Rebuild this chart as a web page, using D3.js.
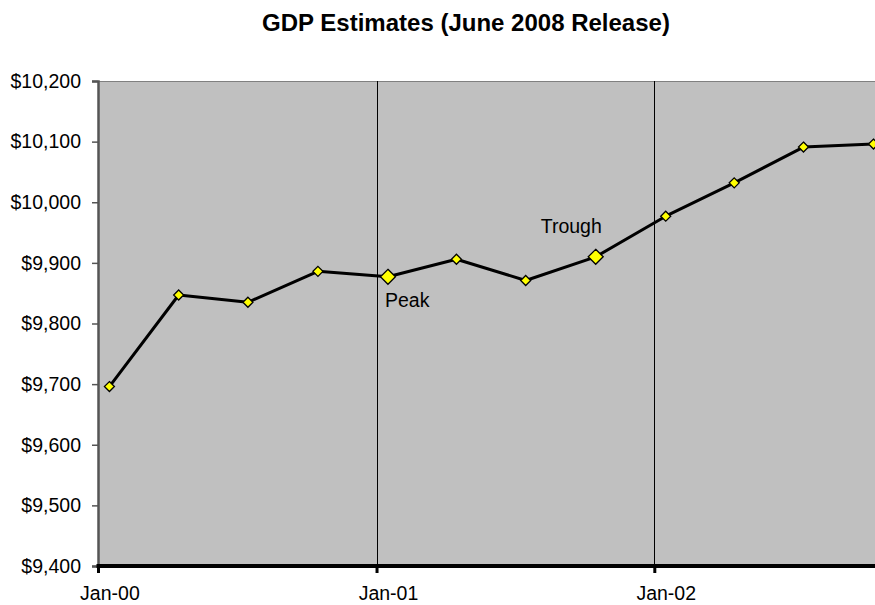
<!DOCTYPE html>
<html>
<head>
<meta charset="utf-8">
<script src="https://cdn.jsdelivr.net/npm/d3@7"></script>
<style>
  html, body { margin: 0; padding: 0; background: #ffffff; }
  svg { display: block; font-family: Arial, "Liberation Sans", sans-serif; }
</style>
</head>
<body>
<svg id="chart" width="875" height="605"></svg>
<script>
// Quarterly GDP estimates, billions of dollars
const quarters = [
  "2000-01-16", "2000-04-16", "2000-07-16", "2000-10-16",
  "2001-01-16", "2001-04-16", "2001-07-16", "2001-10-16",
  "2002-01-16", "2002-04-16", "2002-07-16", "2002-10-16"
];
const gdp = [9696, 9847, 9835, 9886, 9877, 9906, 9871, 9910, 9977, 10032, 10091, 10096];

// Business-cycle turning points (index into the series)
const turningPoints = [
  { index: 4, label: "Peak", dx: -3, dy: 30 },
  { index: 7, label: "Trough", dx: -55, dy: -24 }
];

const yTicks = [9400, 9500, 9600, 9700, 9800, 9900, 10000, 10100, 10200];
const yearStarts = ["2000-01-01", "2001-01-01", "2002-01-01"];
const yearLabelDates = [quarters[0], quarters[4], quarters[8]];

const parse = d3.utcParse("%Y-%m-%d");
const data = quarters.map((q, i) => ({ date: parse(q), value: gdp[i] }));

const svg = d3.select("#chart");
const plotLeft = 98, plotRight = 875, plotTop = 81, plotBottom = 566;
const labelFont = 19.5;

const x = d3.scaleUtc()
  .domain([parse("2000-01-01"), parse("2002-10-18")])
  .range([plotLeft, plotRight]);
const y = d3.scaleLinear().domain([9400, 10200]).range([plotBottom, plotTop]);

// Plot area
svg.append("rect")
  .attr("x", plotLeft).attr("y", plotTop)
  .attr("width", plotRight - plotLeft).attr("height", plotBottom - plotTop)
  .attr("fill", "#c0c0c0");
svg.append("line")
  .attr("x1", plotLeft).attr("x2", plotRight).attr("y1", plotTop + 0.5).attr("y2", plotTop + 0.5)
  .attr("stroke", "#808080").attr("stroke-width", 1);

// Vertical gridlines at year starts
svg.append("g").selectAll("line")
  .data(yearStarts.slice(1).map(parse))
  .join("line")
  .attr("x1", d => Math.round(x(d)) + 0.5).attr("x2", d => Math.round(x(d)) + 0.5)
  .attr("y1", plotTop).attr("y2", plotBottom)
  .attr("stroke", "#000").attr("stroke-width", 1);

// Y axis
const yAxis = svg.append("g")
  .attr("transform", `translate(${plotLeft},0)`)
  .call(d3.axisLeft(y).tickValues(yTicks).tickSize(6).tickPadding(11)
    .tickFormat(d => "$" + d3.format(",")(d)));
yAxis.select(".domain").attr("stroke", "#555").attr("stroke-width", 2.5);
yAxis.selectAll(".tick line").attr("stroke", "#555").attr("stroke-width", 1.5);
yAxis.selectAll("text").attr("font-size", labelFont).attr("fill", "#000")
  .attr("font-family", "Arial, 'Liberation Sans', sans-serif");

// X axis: tick marks at year starts
const xTicks = svg.append("g")
  .attr("transform", `translate(0,${plotBottom})`)
  .call(d3.axisBottom(x).tickValues(yearStarts.map(parse)).tickSize(7).tickFormat(""));
xTicks.select(".domain").remove();
xTicks.selectAll(".tick line").attr("stroke", "#000").attr("stroke-width", 3);

// X axis: year labels under the first quarter of each year
const xLabels = svg.append("g")
  .attr("transform", `translate(0,${plotBottom})`)
  .call(d3.axisBottom(x).tickValues(yearLabelDates.map(parse)).tickSize(0).tickPadding(20)
    .tickFormat(d3.utcFormat("%b-%y")));
xLabels.select(".domain").remove();
xLabels.selectAll(".tick line").remove();
xLabels.selectAll("text").attr("font-size", labelFont).attr("fill", "#000")
  .attr("font-family", "Arial, 'Liberation Sans', sans-serif");

svg.append("line")
  .attr("x1", plotLeft - 1.5).attr("x2", plotRight).attr("y1", plotBottom).attr("y2", plotBottom)
  .attr("stroke", "#000").attr("stroke-width", 4);

// Series line
svg.append("path")
  .datum(data)
  .attr("fill", "none")
  .attr("stroke", "#000")
  .attr("stroke-width", 3)
  .attr("stroke-linejoin", "round")
  .attr("d", d3.line().x(d => x(d.date)).y(d => y(d.value)));

// Diamond markers, larger at the turning points
const special = new Set(turningPoints.map(t => t.index));
svg.append("g").selectAll("path")
  .data(data)
  .join("path")
  .attr("transform", d => `translate(${x(d.date)},${y(d.value)})`)
  .attr("d", (d, i) => {
    const r = special.has(i) ? 7.5 : 5;
    return `M0,${-r}L${r},0L0,${r}L${-r},0Z`;
  })
  .attr("fill", "#ffff00")
  .attr("stroke", "#000")
  .attr("stroke-width", 1.3);

// Turning point labels
svg.append("g").selectAll("text")
  .data(turningPoints)
  .join("text")
  .attr("x", t => x(data[t.index].date) + t.dx)
  .attr("y", t => y(data[t.index].value) + t.dy)
  .attr("font-size", labelFont)
  .attr("fill", "#000")
  .text(t => t.label);

// Title
svg.append("text")
  .attr("x", 466).attr("y", 31)
  .attr("text-anchor", "middle")
  .attr("font-size", 24)
  .attr("font-weight", "bold")
  .attr("fill", "#000")
  .text("GDP Estimates (June 2008 Release)");
</script>
</body>
</html>
